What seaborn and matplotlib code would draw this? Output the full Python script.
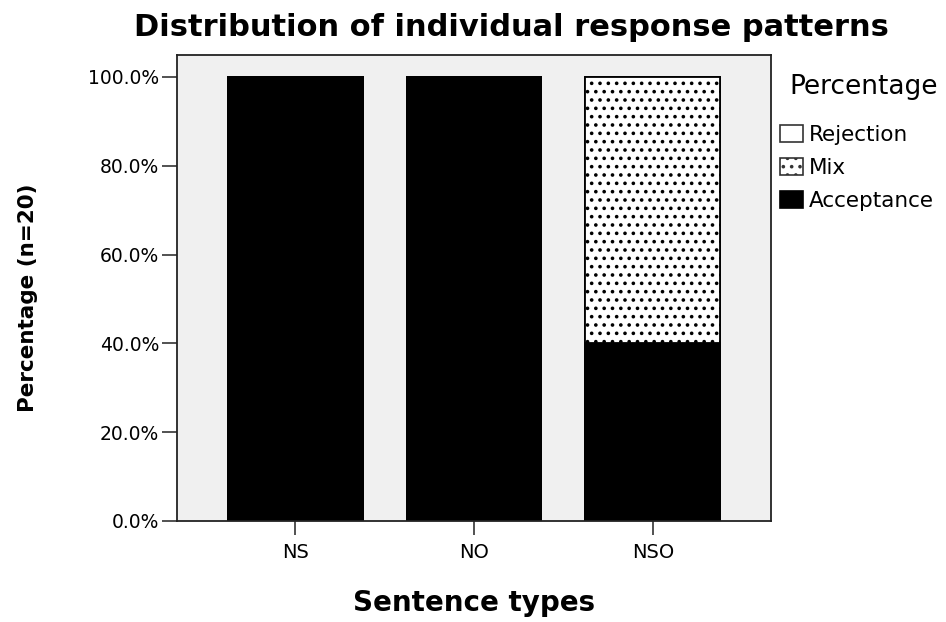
import matplotlib
matplotlib.use("Agg")
import matplotlib.pyplot as plt
import seaborn as sns
import pandas as pd
from matplotlib.patches import Patch

categories = ["NS", "NO", "NSO"]
acceptance = [100.0, 100.0, 40.0]
mix = [0.0, 0.0, 60.0]
rejection = [0.0, 0.0, 0.0]
y_ticks = [0, 20, 40, 60, 80, 100]
y_tick_labels = ["0.0%", "20.0%", "40.0%", "60.0%", "80.0%", "100.0%"]
legend_labels = ["Rejection", "Mix", "Acceptance"]

sns.set_theme(style="white")
plt.rcParams["font.family"] = ["DejaVu Sans"]
plt.rcParams["hatch.color"] = "#909090"
plt.rcParams["hatch.linewidth"] = 1.4
plt.rcParams["text.color"] = "black"
plt.rcParams["axes.labelcolor"] = "black"

df = pd.DataFrame({
    "cat": categories,
    "acc": acceptance,
    "mix_top": [a + m for a, m in zip(acceptance, mix)],
    "rej_top": [a + m + r for a, m, r in zip(acceptance, mix, rejection)],
})

fig = plt.figure(figsize=(9.46, 6.22), dpi=100)
ax = fig.add_axes([177 / 946, 1 - 521 / 622, (771 - 177) / 946, (521 - 55) / 622])
ax.set_facecolor("#f0f0f0")

W = 0.754
sns.barplot(data=df, x="cat", y="rej_top", color="white", edgecolor="black",
            linewidth=1.3, width=W, saturation=1, ax=ax, order=categories)
n0 = len(ax.patches)
sns.barplot(data=df, x="cat", y="mix_top", color="white", edgecolor="black",
            linewidth=1.3, width=W, saturation=1, ax=ax, order=categories)
for p in ax.patches[n0:]:
    p.set_hatch("..")
sns.barplot(data=df, x="cat", y="acc", color="black", edgecolor="black",
            linewidth=1.3, width=W, saturation=1, ax=ax, order=categories)

ax.set_xlim(-0.66, 2.66)
ax.set_ylim(0, 104.95)
ax.set_yticks(y_ticks)
ax.set_yticklabels(y_tick_labels)
ax.tick_params(axis="both", which="both", direction="out", width=1.2,
               color="#333333", pad=2, left=True, bottom=True,
               labelcolor="black")
ax.tick_params(axis="y", length=11, labelsize=13.5)
ax.tick_params(axis="x", length=10, labelsize=14, pad=6)
for s in ax.spines.values():
    s.set_color("#222222")
    s.set_linewidth(1.3)
    s.set_visible(True)

ax.set_xlabel("Sentence types", fontsize=20, fontweight="bold")
ax.set_ylabel("Percentage (n=20)", fontsize=15.5, fontweight="bold")
ax.xaxis.set_label_coords((474 - 177) / 594, (521 - 603) / 466)
ax.yaxis.set_label_coords((28 - 177) / 594, (521 - 298) / 466)
ax.xaxis.label.set_va("center")
ax.yaxis.label.set_va("center")

fig.text(511 / 946, 1 - 27 / 622, "Distribution of individual response patterns",
         ha="center", va="center", fontsize=22, fontweight="bold", color="black")

fig.text(789 / 946, 1 - 87 / 622, "Percentage", ha="left", va="center", fontsize=19,
         color="black")

handles = [
    Patch(facecolor="white", edgecolor="#333333", linewidth=1.2),
    Patch(facecolor="white", edgecolor="#333333", linewidth=1.2, hatch=".."),
    Patch(facecolor="black", edgecolor="black", linewidth=1.2),
]
fig.legend(handles, legend_labels, loc="upper left",
           bbox_to_anchor=(780 / 946, 1 - 125 / 622), frameon=False,
           fontsize=15.5, handlelength=1.07, handleheight=0.79, handletextpad=0.25,
           labelspacing=0.6, borderpad=0.0, borderaxespad=0, labelcolor="black")

fig.savefig("out.png", dpi=100)
